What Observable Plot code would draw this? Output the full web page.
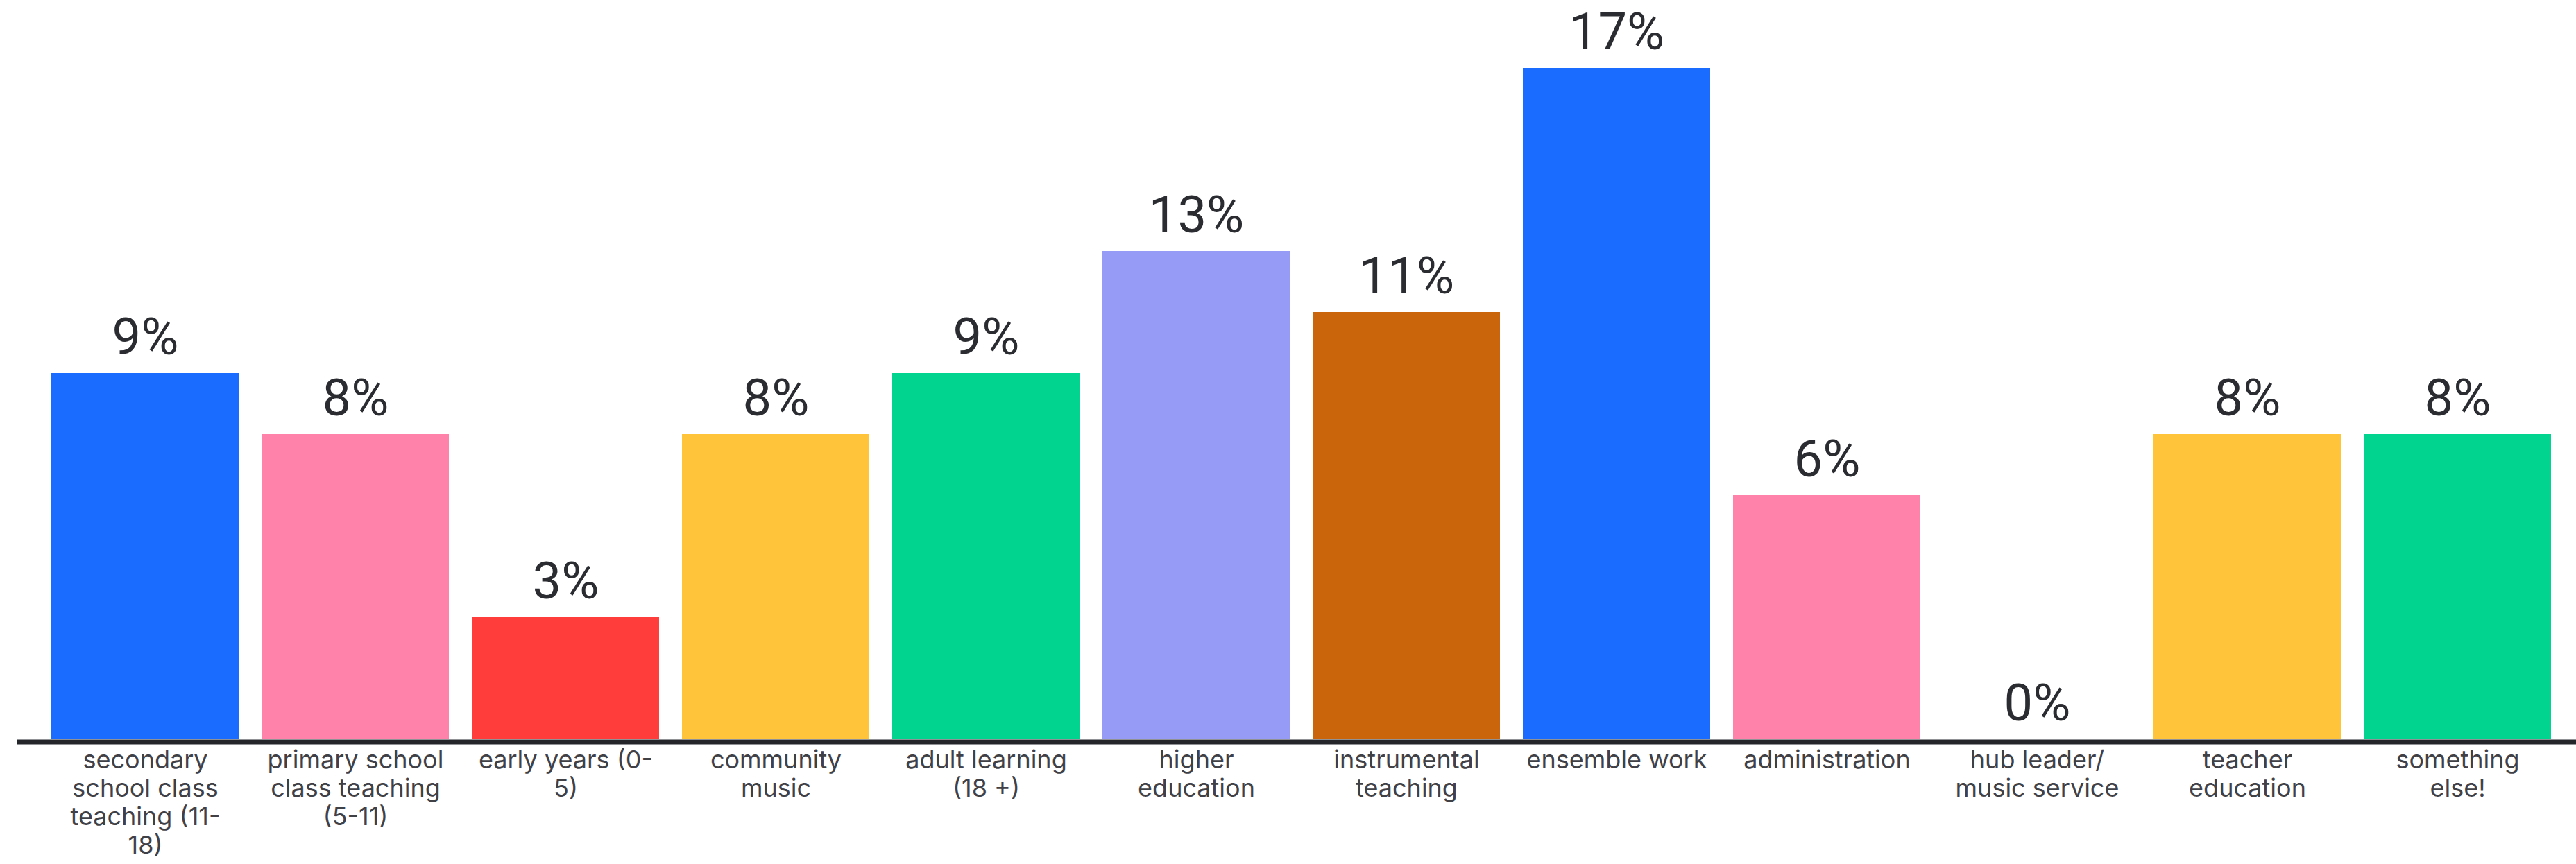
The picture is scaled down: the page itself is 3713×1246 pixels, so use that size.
<!DOCTYPE html>
<html>
<head>
<meta charset="utf-8">
<script src="https://cdn.jsdelivr.net/npm/d3@7"></script>
<script src="https://cdn.jsdelivr.net/npm/@observablehq/plot@0.6"></script>
<style>
  html, body { margin: 0; padding: 0; background: #ffffff; }
  #chart svg { display: block; }
</style>
</head>
<body>
<div id="chart"></div>
<script>
const categories = [
  "secondary school class teaching (11-18)",
  "primary school class teaching (5-11)",
  "early years (0-5)",
  "community music",
  "adult learning (18 +)",
  "higher education",
  "instrumental teaching",
  "ensemble work",
  "administration",
  "hub leader/ music service",
  "teacher education",
  "something else!"
];
const tickLabels = [
  "secondary\nschool class\nteaching (11-\n18)",
  "primary school\nclass teaching\n(5-11)",
  "early years (0-\n5)",
  "community\nmusic",
  "adult learning\n(18 +)",
  "higher\neducation",
  "instrumental\nteaching",
  "ensemble work",
  "administration",
  "hub leader/\nmusic service",
  "teacher\neducation",
  "something\nelse!"
];
const values = [9.375, 7.8125, 3.125, 7.8125, 9.375, 12.5, 10.9375, 17.1875, 6.25, 0, 7.8125, 7.8125];
const valueLabels = ["9%", "8%", "3%", "8%", "9%", "13%", "11%", "17%", "6%", "0%", "8%", "8%"];
const colors = ["#1a6bff", "#ff82ab", "#ff3e3b", "#ffc43a", "#00d48e", "#969cf5", "#cb650b", "#1a6bff", "#ff82ab", "#ffffff", "#ffc43a", "#00d48e"];

const data = categories.map((c, i) => ({category: c, value: values[i], label: valueLabels[i], color: colors[i], tick: tickLabels[i]}));
const tickMap = new Map(data.map(d => [d.category, d.tick]));

const chart = Plot.plot({
  width: 3713,
  height: 1246,
  marginLeft: 42,
  marginRight: 4,
  marginTop: 98,
  marginBottom: 180,
  style: {fontFamily: "Inter, 'Noto Sans', sans-serif", background: "#ffffff"},
  x: {domain: categories, paddingInner: 0.11, paddingOuter: 0.1, label: null},
  y: {domain: [0, 17.1875], axis: null},
  marks: [
    Plot.barY(data, {x: "category", y: "value", fill: "color"}),
    Plot.ruleY([0], {stroke: "#23252b", strokeWidth: 7, dy: 3.5, insetLeft: -18, insetRight: -4}),
    Plot.text(data, {x: "category", y: "value", text: "label", lineAnchor: "bottom", dy: -28, fontSize: 74, fontFamily: "Roboto, 'Liberation Sans', sans-serif", fill: "#2a2c31"}),
    Plot.axisX({tickSize: 0, tickPadding: 12, fontSize: 36, lineHeight: 1.14, fill: "#3f4147", tickFormat: d => tickMap.get(d), label: null})
  ]
});
document.getElementById("chart").append(chart);
</script>
</body>
</html>
